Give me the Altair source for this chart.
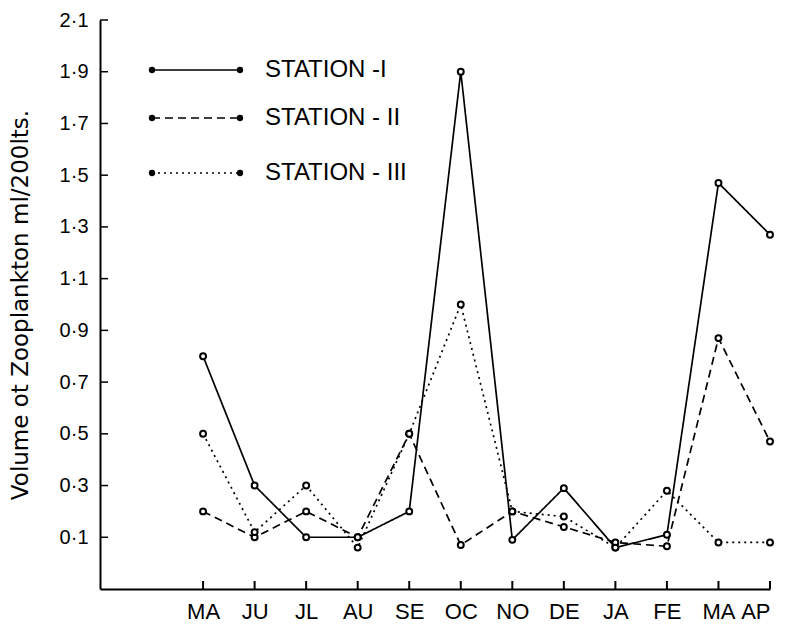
import altair as alt
import pandas as pd

months = ["MA", "JU", "JL", "AU", "SE", "OC", "NO", "DE", "JA", "FE", "MA", "AP"]
month_index = list(range(1, 13))
station_1 = [0.8, 0.3, 0.1, 0.1, 0.2, 1.9, 0.09, 0.29, 0.06, 0.11, 1.47, 1.27]
station_2 = [0.2, 0.1, 0.2, 0.1, 0.5, 0.07, 0.2, 0.14, 0.08, 0.065, 0.87, 0.47]
station_3 = [0.5, 0.12, 0.3, 0.06, 0.5, 1.0, 0.2, 0.18, 0.06, 0.28, 0.08, 0.08]
stations = ["STATION -I", "STATION - II", "STATION - III"]
y_ticks = [0.1, 0.3, 0.5, 0.7, 0.9, 1.1, 1.3, 1.5, 1.7, 1.9, 2.1]

rows = []
for name, vals in zip(stations, [station_1, station_2, station_3]):
    for i, m, v in zip(month_index, months, vals):
        rows.append({"station": name, "idx": i, "month": m, "value": v})
df = pd.DataFrame(rows)

FONT = "Liberation Sans"
TFONT = "DejaVu Sans"
W, H = 670, 569

month_js = "[" + ",".join("'" + m + "'" for m in months) + "]"

x_scale = alt.Scale(domain=[-1, 12], nice=False, zero=False)
y_scale = alt.Scale(domain=[-0.1, 2.1], nice=False, zero=False)
dash_scale = alt.Scale(domain=stations, range=[[1, 0], [8, 5], [2, 4]])

x_axis = alt.Axis(values=month_index, labelExpr=month_js + "[datum.value - 1]",
                  title=None, grid=False, ticks=False, domainColor="black",
                  domainWidth=2, labelFontSize=22, labelFont=FONT,
                  labelColor="black", labelPadding=12)
y_axis = alt.Axis(values=y_ticks,
                  labelExpr="replace(format(datum.value, '.1f'), '.', '·')",
                  title="Volume ot Zooplankton ml/200lts.", titleFont=TFONT,
                  titleFontSize=23, titleFontWeight="normal", titleColor="black",
                  titlePadding=27, grid=False, ticks=False, domainColor="black",
                  domainWidth=2, labelFontSize=20, labelFont=FONT,
                  labelColor="black", labelPadding=12)

base = alt.Chart(df)
lines = base.mark_line(color="black", strokeWidth=1.7).encode(
    x=alt.X("idx:Q", scale=x_scale, axis=x_axis),
    y=alt.Y("value:Q", scale=y_scale, axis=y_axis),
    strokeDash=alt.StrokeDash("station:N", scale=dash_scale, legend=None),
    detail="station:N",
)
points = base.mark_point(shape="circle", filled=False, color="black",
                         fill="white", fillOpacity=1, opacity=1, strokeWidth=2,
                         size=35).encode(
    x=alt.X("idx:Q", scale=x_scale),
    y=alt.Y("value:Q", scale=y_scale),
)

xt = alt.Chart(pd.DataFrame({"idx": month_index})).mark_rule(
    color="black", strokeWidth=2).encode(
    x=alt.X("idx:Q", scale=x_scale),
    y=alt.value(H), y2=alt.value(H - 8))
yt = alt.Chart(pd.DataFrame({"v": y_ticks})).mark_rule(
    color="black", strokeWidth=1.5).encode(
    y=alt.Y("v:Q", scale=y_scale),
    x=alt.value(0), x2=alt.value(8))

layers = [xt, yt, lines, points]

leg_y = [50, 98, 153]
for name, yy, dash in zip(stations, leg_y, [[1, 0], [8, 5], [2, 4]]):
    ldf = pd.DataFrame({"station": [name]})
    lc = alt.Chart(ldf)
    layers.append(lc.mark_rule(color="black", strokeWidth=1.7, strokeDash=dash).encode(
        x=alt.value(52), x2=alt.value(140), y=alt.value(yy)))
    layers.append(lc.mark_point(shape="circle", filled=True, color="black",
                                opacity=1, size=40).encode(
        x=alt.value(52), y=alt.value(yy)))
    layers.append(lc.mark_point(shape="circle", filled=True, color="black",
                                opacity=1, size=40).encode(
        x=alt.value(140), y=alt.value(yy)))
    layers.append(lc.mark_text(align="left", baseline="middle", font=FONT,
                               fontSize=24, color="black").encode(
        text="station:N", x=alt.value(165), y=alt.value(yy)))

chart = alt.layer(*layers).properties(
    width=W, height=H,
    padding={"left": 92, "top": 12, "right": 8, "bottom": 45},
    autosize=alt.AutoSizeParams(type="none"),
    background="white",
).configure_view(stroke=None)

chart.save("out.html", embed_options={"renderer": "svg", "actions": False})
